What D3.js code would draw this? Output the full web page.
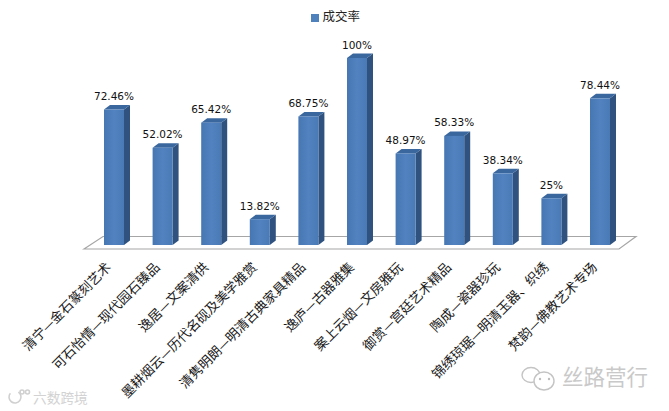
<!DOCTYPE html>
<html><head><meta charset="utf-8">
<script src="https://cdnjs.cloudflare.com/ajax/libs/d3/7.8.5/d3.min.js"></script>
<style>html,body{margin:0;padding:0;background:#fff}svg{display:block}</style>
</head><body><svg id="c" width="669" height="411"></svg>
<script>
const categories = ["清宁—金石篆刻艺术","可石怡情—现代园石臻品","逸居—文案清供","墨耕烟云—历代名砚及美学雅赏","清隽明朗—明清古典家具精品","逸庐—古器雅集","案上云烟—文房雅玩","御赏—宫廷艺术精品","陶成—瓷器珍玩","锦绣琼琚—明清玉器、织绣","梵韵—佛教艺术专场"];
const values = [72.46,52.02,65.42,13.82,68.75,100,48.97,58.33,38.34,25,78.44];
const valueLabels = ["72.46%","52.02%","65.42%","13.82%","68.75%","100%","48.97%","58.33%","38.34%","25%","78.44%"];
const seriesName = "成交率";

const svg = d3.select("#c");
const x = d3.scalePoint().domain(categories).range([114,600]);
const y = d3.scaleLinear().domain([0,100]).range([245,58]);
const bw = 20, dx = 6, dy = 4.5;
const cjk = "'Noto Sans CJK SC','Noto Sans',sans-serif";

const defs = svg.append("defs");
const g = defs.append("linearGradient").attr("id","front");
g.append("stop").attr("offset","0").attr("stop-color","#4677b3");
g.append("stop").attr("offset","0.5").attr("stop-color","#5283c0");
g.append("stop").attr("offset","1").attr("stop-color","#4a7ab6");

// floor
svg.append("path")
  .attr("d", d3.line()([[84,249],[103,236.5],[636,236.5],[619,249]])+"Z")
  .attr("fill","#fff").attr("stroke","#a6a6a6").attr("stroke-width",1.2);

// bars
const bars = svg.append("g").selectAll("g").data(categories).join("g");
bars.append("path").attr("fill","#2f527f")
  .attr("d",(d,i)=>{const l=x(d)+bw/2,t=y(values[i]),b=y(0);
    return d3.line()([[l,t],[l+dx,t-dy],[l+dx,b-dy],[l,b]])+"Z";});
bars.append("path").attr("fill","#3a679e")
  .attr("d",(d,i)=>{const l=x(d)-bw/2,t=y(values[i]);
    return d3.line()([[l,t],[l+dx,t-dy],[l+bw+dx,t-dy],[l+bw,t]])+"Z";});
bars.append("rect").attr("fill","url(#front)")
  .attr("x",d=>x(d)-bw/2).attr("width",bw)
  .attr("y",(d,i)=>y(values[i])).attr("height",(d,i)=>y(0)-y(values[i]));

// value labels
svg.append("g").selectAll("text").data(valueLabels).join("text")
  .attr("x",(d,i)=>x(categories[i])).attr("y",(d,i)=>y(values[i])-9.5)
  .attr("text-anchor","middle").attr("font-family","'DejaVu Sans',sans-serif")
  .attr("font-size",10.5).attr("fill","#111").text(d=>d);

// category labels
svg.append("g").selectAll("text").data(categories).join("text")
  .attr("text-anchor","end")
  .attr("transform",d=>`translate(${x(d)-2},${268}) rotate(-45)`)
  .attr("font-family",cjk).attr("font-size",13.3).attr("fill","#1a1a1a").text(d=>d);

// legend
svg.append("rect").attr("x",311).attr("y",14).attr("width",8).attr("height",8).attr("fill","#4f81bd");
svg.append("text").attr("x",322.5).attr("y",20.5).attr("font-family",cjk).attr("font-size",12.5).attr("fill","#222").text(seriesName);

// watermarks
svg.append("text").attr("x",33).attr("y",403).attr("font-family",cjk).attr("font-size",13.7).attr("fill","#d2d2d2").text("六数跨境");
svg.append("text").attr("x",562).attr("y",385).attr("font-family",cjk).attr("font-size",21.5).attr("fill","#c9c9c9").text("丝路营行");
const ic = svg.append("g").attr("fill","#fff").attr("stroke","#c4c4c4").attr("stroke-width",1.4);
ic.append("ellipse").attr("cx",531).attr("cy",375).attr("rx",9).attr("ry",7.5);
ic.append("ellipse").attr("cx",544).attr("cy",381).attr("rx",10).attr("ry",9);
const ik = svg.append("g").attr("fill","#bdbdbd");
ik.append("circle").attr("cx",540).attr("cy",379).attr("r",1.2);
ik.append("circle").attr("cx",549).attr("cy",379).attr("r",1.2);
const lg = svg.append("g").attr("fill","none").attr("stroke","#d0d0d0").attr("stroke-width",1.6);
lg.append("path").attr("d",d3.arc()({innerRadius:6,outerRadius:6,startAngle:0.6,endAngle:5.4})).attr("transform","translate(15,397)");
lg.append("circle").attr("cx",22).attr("cy",392).attr("r",2);
lg.append("circle").attr("cx",27.5).attr("cy",392).attr("r",2);
</script></body></html>
